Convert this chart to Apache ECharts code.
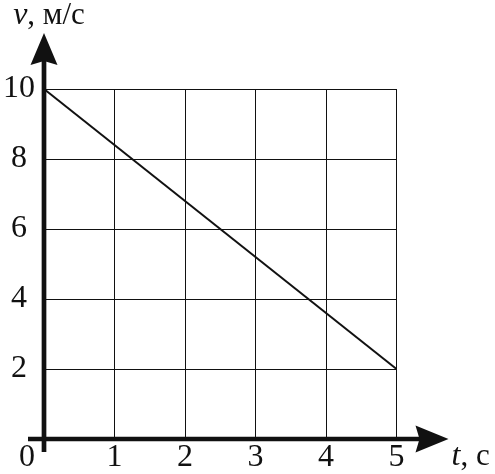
<!DOCTYPE html>
<html><head><meta charset="utf-8">
<script src="https://cdn.jsdelivr.net/npm/echarts@6/dist/echarts.min.js"></script>
<style>html,body{margin:0;padding:0;background:#fff}#c{width:495px;height:474px}</style>
</head><body><div id="c"></div>
<script>
const tValues = [0, 5];
const vValues = [10, 2];
const xTickLabels = ['0', '1', '2', '3', '4', '5'];
const yTickLabels = {0: '', 2: '2', 4: '4', 6: '6', 8: '8', 10: '10'};
const xNameItalic = 't';
const xNameRest = ', с';
const yNameItalic = 'v';
const yNameRest = ', м/с';

const FONT = '"Liberation Serif", "Times New Roman", serif';
const INK = '#111';
const chart = echarts.init(document.getElementById('c'), null, {renderer: 'canvas'});

function axesRender(params, api) {
  const o = api.coord([0, 0]);
  const xe = api.coord([5, 0]);
  const ye = api.coord([0, 10]);
  const lw = 4.7;
  const xTip = xe[0] + 52, xBase = xe[0] + 19;
  const yTip = ye[1] - 56, yBase = ye[1] - 24;
  const hw = 13.5, notch = 4;
  return {
    type: 'group',
    children: [
      {type: 'line', shape: {x1: o[0] - 16, y1: o[1], x2: xBase + notch + 1, y2: o[1]}, style: {stroke: INK, lineWidth: lw}},
      {type: 'line', shape: {x1: o[0], y1: o[1] + 13, x2: o[0], y2: yBase - notch - 1}, style: {stroke: INK, lineWidth: lw}},
      {type: 'polygon', shape: {points: [[xTip, o[1]], [xBase, o[1] - hw], [xBase + notch, o[1]], [xBase, o[1] + hw]]}, style: {fill: INK}},
      {type: 'polygon', shape: {points: [[o[0], yTip], [o[0] - hw, yBase], [o[0], yBase - notch], [o[0] + hw, yBase]]}, style: {fill: INK}}
    ]
  };
}

const nameRich = {
  i: {fontFamily: FONT, fontStyle: 'italic', fontSize: 32, color: INK},
  r: {fontFamily: FONT, fontSize: 31, color: INK}
};

const option = {
  backgroundColor: '#fff',
  animation: false,
  grid: {left: 43, right: 98.5, top: 88, bottom: 35},
  xAxis: {
    type: 'value', min: 0, max: 5, interval: 1,
    axisLine: {show: false}, axisTick: {show: false},
    splitLine: {show: true, lineStyle: {color: INK, width: 1}},
    axisLabel: {
      formatter: v => v === 0 ? '{z|0}' : xTickLabels[v],
      fontFamily: FONT, fontSize: 32, color: INK, margin: 3,
      rich: {z: {padding: [0, 34, 0, 0], fontFamily: FONT, fontSize: 32, color: INK}}
    },
    name: '{i|' + xNameItalic + '}{r|' + xNameRest + '}', nameLocation: 'end', nameGap: 55,
    nameTextStyle: {verticalAlign: 'top', padding: [2, 0, 0, 0], rich: nameRich}
  },
  yAxis: {
    type: 'value', min: 0, max: 10, interval: 2,
    axisLine: {show: false}, axisTick: {show: false},
    splitLine: {show: true, lineStyle: {color: INK, width: 1}},
    axisLabel: {
      formatter: v => yTickLabels[v],
      fontFamily: FONT, fontSize: 32, color: INK, margin: 25, align: 'center'
    },
    name: '{i|' + yNameItalic + '}{r|' + yNameRest + '}', nameLocation: 'end', nameGap: 57,
    nameTextStyle: {padding: [0, 0, 0, 10], rich: nameRich}
  },
  series: [
    {
      type: 'custom', renderItem: axesRender, data: [[0, 0]], clip: false, silent: true, z: 3
    },
    {
      type: 'line', data: tValues.map((t, i) => [t, vValues[i]]),
      symbol: 'none', lineStyle: {color: INK, width: 2}, z: 4, silent: true
    }
  ]
};
chart.setOption(option);
</script>
</body></html>
